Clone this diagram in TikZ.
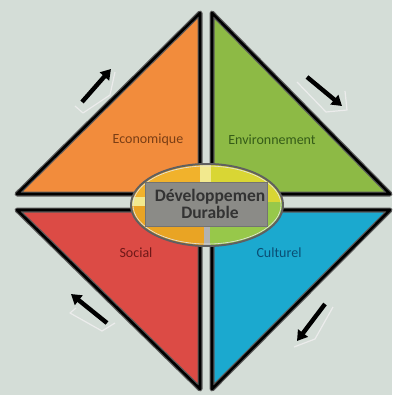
\documentclass[tikz,border=0pt]{standalone}
\usepackage{fontspec}
\setmainfont{Carlito}
\usetikzlibrary{arrows.meta,calc,positioning}

\definecolor{bgcol}{HTML}{D4DDD7}
\definecolor{eco}{HTML}{F28C3C}
\definecolor{env}{HTML}{8DBA45}
\definecolor{soc}{HTML}{DC4B45}
\definecolor{cul}{HTML}{1BA9CF}
\definecolor{ecotxt}{HTML}{7A3E15}
\definecolor{envtxt}{HTML}{355C18}
\definecolor{soctxt}{HTML}{6E1818}
\definecolor{cultxt}{HTML}{0A4E74}
\definecolor{boxgray}{HTML}{8B8B87}
\definecolor{qtl}{HTML}{F1B22C}
\definecolor{qtr}{HTML}{D9D634}
\definecolor{qbl}{HTML}{E9A424}
\definecolor{qbr}{HTML}{97C84A}
\definecolor{stripe}{HTML}{F2E98E}

\begin{document}
\begin{tikzpicture}[x=1pt, y=-1pt, >={Triangle[length=10pt,width=12pt]},
  halo/.style  = {draw=gray!70!black, line width=5pt, line join=round},
  tri/.style   = {draw=black, line width=2.6pt, line join=round},
  lbl/.style   = {font=\fontsize{14}{16}\selectfont},
  flow/.style  = {->, line width=4.4pt, black},
  ghost/.style = {draw=white!85!gray, line width=1.2pt, line join=round},
  core/.style  = {draw=black!55, line width=1pt, fill=boxgray,
                  minimum width=122pt, minimum height=44pt},
                        ]

    % background
    \fill[bgcol] (0,0) rectangle (392,395);
    \useasboundingbox (0,0) rectangle (392,395);

    % four triangles
    \path[halo, fill=eco] (200,13) -- (17,194) -- (200,194) -- cycle;
    \draw[tri]            (200,13) -- (17,194) -- (200,194) -- cycle;
    \path[halo, fill=env] (212,13) -- (390,194) -- (212,194) -- cycle;
    \draw[tri]            (212,13) -- (390,194) -- (212,194) -- cycle;
    \path[halo, fill=soc] (17,210) -- (200,210) -- (200,389) -- cycle;
    \draw[tri]            (17,210) -- (200,210) -- (200,389) -- cycle;
    \path[halo, fill=cul] (212,210) -- (390,210) -- (212,389) -- cycle;
    \draw[tri]            (212,210) -- (390,210) -- (212,389) -- cycle;

    % labels
    \node[lbl, text=ecotxt] (ecol) at (148,140) {Economique};
    \node[lbl, text=envtxt] (envl) at (272,140) {Environnement};
    \node[lbl, text=soctxt] (socl) at (136,253) {Social};
    \node[lbl, text=cultxt] (cull) at (279,253) {Culturel};

    % centre ellipse
    \begin{scope}
      \clip (207,205) ellipse [x radius=76pt, y radius=41pt];
      \fill[qtl] (120,150) rectangle (207,202);
      \fill[qtr] (207,150) rectangle (300,202);
      \fill[qbl] (120,202) rectangle (207,260);
      \fill[qbr] (207,202) rectangle (300,260);
      \fill[stripe] (200,150) rectangle (211,202);
      \fill[stripe] (120,197) rectangle (207,206);
      \fill[gray!60] (204,206) rectangle (210,260);
    \end{scope}
    \draw[gray!75!black, line width=2pt] (207,205) ellipse [x radius=76pt, y radius=41pt];
    \draw[white!80!gray, line width=0.6pt] (207,205) ellipse [x radius=74pt, y radius=39pt];

    \node[core] (dd) at (206,204) {};
    \node[font=\bfseries\fontsize{17.5}{17.5}\selectfont, text=black!80, align=center]
         (ddtxt) at (210,204) {Développemen\\Durable};

    % cycle arrows
    \draw[ghost] (75,106) -- (83,113) -- (110,95) -- (115,72);
    \draw[flow]  (82,102) -- (111,69);
    \draw[ghost] (297,82) -- (326,112) -- (347,110) -- (345,91);
    \draw[flow]  (307,77) -- (342,106);
    \draw[ghost] (76,308) -- (70,313) -- (102,331) -- (115,323);
    \draw[flow]  (107,323) -- (71,294);
    \draw[ghost] (333,307) -- (315,339) -- (294,347);
    \draw[flow]  (325,304) -- (297,341);
\end{tikzpicture}
\end{document}
